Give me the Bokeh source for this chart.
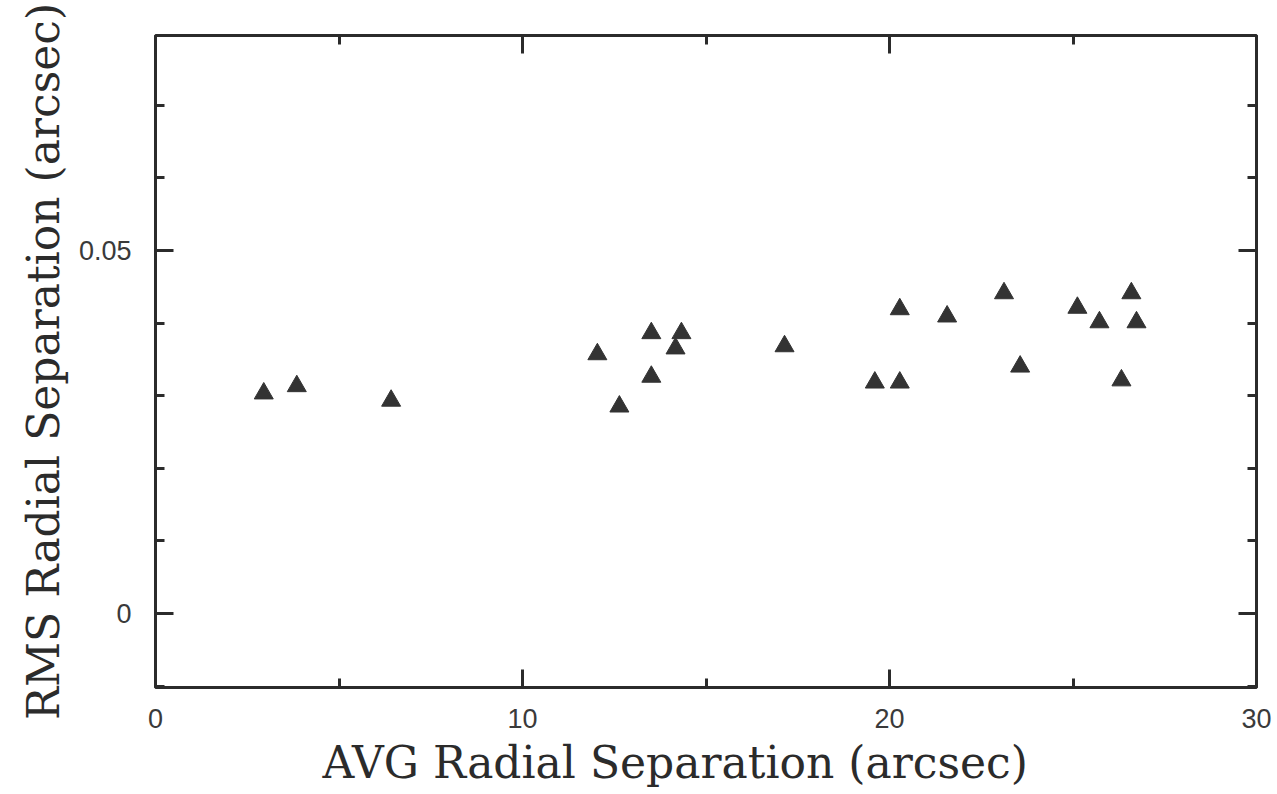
from bokeh.plotting import figure
from bokeh.models import FixedTicker, LinearAxis, Range1d, Title
from bokeh.embed import file_html
from bokeh.resources import INLINE

# ---- data ----
avg_sep = [2.95, 3.85, 6.42, 12.04, 12.64, 13.51, 13.51, 14.17, 14.33, 17.14,
           19.60, 20.28, 20.28, 21.57, 23.12, 23.56, 25.12, 25.72, 26.32, 26.59, 26.73]
rms_sep = [0.0303, 0.0313, 0.0293, 0.0357, 0.0285, 0.0386, 0.0326, 0.0365, 0.0386, 0.0368,
           0.0318, 0.0318, 0.0419, 0.0409, 0.0441, 0.0340, 0.0421, 0.0401, 0.0321, 0.0441, 0.0401]

x_major = [0, 10, 20, 30]
x_minor = [5, 15, 25]
y_major = [0, 0.05]
y_minor = [-0.01, 0.01, 0.02, 0.03, 0.04, 0.06, 0.07]
y_labels = {0: "0", 0.05: "0.05"}
x_title = "AVG Radial Separation (arcsec)"
y_title = "RMS Radial Separation (arcsec)"

INK = "#2b2b2b"
TITLE_FONT = "DejaVu Serif"
TICK_FONT = "Liberation Sans"

p = figure(width=1277, height=794, output_backend="svg", toolbar_location=None,
           x_range=Range1d(0, 30), y_range=Range1d(-0.0102, 0.0796),
           min_border_left=155, min_border_right=21, min_border_top=35, min_border_bottom=107,
           x_axis_type=None, y_axis_type=None)
p.grid.visible = False
p.outline_line_color = INK
p.outline_line_width = 3
p.background_fill_color = "white"
p.border_fill_color = "white"

def style_axis(ax, labels=True, standoff=10):
    ax.axis_line_color = None
    ax.major_tick_in = 18
    ax.major_tick_out = 0
    ax.minor_tick_in = 9
    ax.minor_tick_out = 0
    ax.major_tick_line_color = INK
    ax.minor_tick_line_color = INK
    ax.major_tick_line_width = 3
    ax.minor_tick_line_width = 3
    if labels:
        ax.major_label_text_font = TICK_FONT
        ax.major_label_text_font_size = "27px"
        ax.major_label_text_color = "#3a3a3a"
        ax.major_label_standoff = standoff
    else:
        ax.major_label_text_font_size = "8px"
        ax.major_label_text_color = None
        ax.major_label_standoff = 0

xt = FixedTicker(ticks=x_major, minor_ticks=x_minor)
yt = FixedTicker(ticks=y_major, minor_ticks=y_minor)

bx = LinearAxis(ticker=xt)
style_axis(bx, True, 21)
p.add_layout(bx, "below")

ly = LinearAxis(ticker=yt, major_label_overrides=y_labels)
style_axis(ly, True, 24)
p.add_layout(ly, "left")

tx = LinearAxis(ticker=xt)
style_axis(tx, False)
p.add_layout(tx, "above")

ry = LinearAxis(ticker=yt)
style_axis(ry, False)
p.add_layout(ry, "right")

p.scatter(avg_sep, rms_sep, marker="triangle", size=19, fill_color="#333333",
          line_color="#333333")

p.add_layout(Title(text=x_title, align="left", offset=167, standoff=9,
                   text_font=TITLE_FONT, text_font_size="44px", text_font_style="normal",
                   text_color=INK), "below")
p.add_layout(Title(text=y_title, align="center", standoff=14,
                   text_font=TITLE_FONT, text_font_size="44px", text_font_style="normal",
                   text_color=INK), "left")

open("out.html", "w").write(file_html(p, INLINE))
